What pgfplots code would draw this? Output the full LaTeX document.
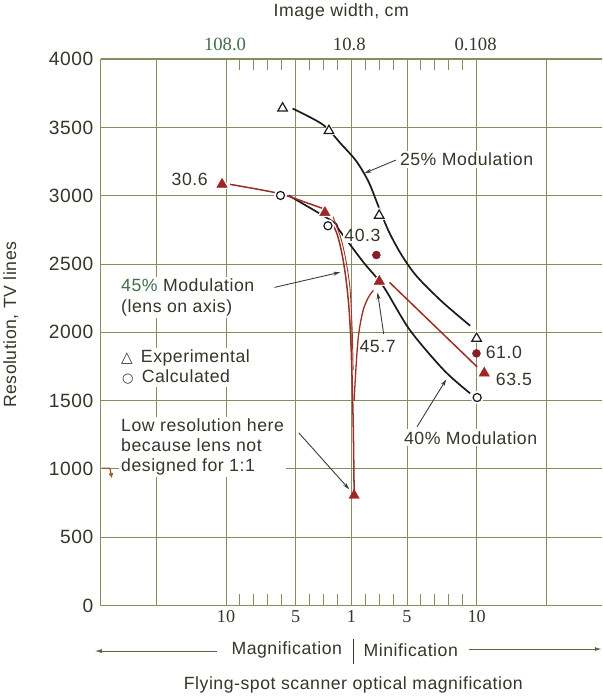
\documentclass[border=0pt]{standalone}
\usepackage{fontspec}
\setmainfont{Liberation Sans}[LetterSpace=3]
\newfontfamily\serifnum{Liberation Serif}
\newfontfamily\sym{DejaVu Sans}
\usepackage{pgfplots}
\pgfplotsset{compat=1.18}
\usetikzlibrary{arrows.meta}
\definecolor{gridc}{RGB}{135,141,95}
\definecolor{txt}{RGB}{50,56,42}
\definecolor{redc}{RGB}{160,38,38}
\definecolor{curvered}{RGB}{155,48,40}
\definecolor{dotc}{RGB}{135,28,45}
\definecolor{blk}{RGB}{28,28,28}
\definecolor{grn}{RGB}{66,110,76}
\definecolor{brn}{RGB}{150,90,40}
\newcommand{\tf}{\fontsize{17.5}{20}\selectfont}
\begin{document}
\begin{tikzpicture}
\begin{axis}[name=ax, scale only axis, width=496pt, height=541pt,
  xmin=-9, xmax=27, ymin=0, ymax=4000,
  axis x line*=box, axis y line*=left,
  axis line style={gridc, line width=1.3pt},
  xtick={-5,0,5,9,13,18,23}, xticklabels={,10,5,1,5,10,},
  minor xtick={1,2,3,4,6,7,8,10,11,12,14,15,16,17},
  ytick={0,500,...,4000},
  yticklabels={0,500,1000,1500,2000,2500,3000,3500,4000},
  major tick length=0pt, minor tick length=11pt,
  every minor tick/.style={gridc, line width=1pt},
  grid=major, major grid style={gridc, line width=1pt},
  tick label style={txt},
  x tick label style={font=\serifnum\fontsize{18}{18}\selectfont, yshift=-1pt},
  y tick label style={font=\fontsize{19}{19}\selectfont, xshift=-4pt},
  clip=false,
]
% ---- 25% modulation (experimental)
\addplot[blk, line width=1.7pt, smooth, tension=0.5] coordinates {
 (4.78,3638) (6.96,3520) (8.26,3379) (9.35,3254) (10.22,3106) (10.87,2943) (11.67,2743) (12.61,2566) (13.70,2410) (15.51,2225) (17.54,2048)};
% ---- 40% modulation (calculated)
\addplot[blk, line width=1.7pt, smooth, tension=0.5] coordinates {
 (4.49,3002) (7.68,2810) (8.12,2750) (9.86,2514) (11.30,2336) (13.19,2019) (15.65,1723) (17.54,1553)};
% ---- 45% modulation (lens on axis)
\addplot[curvered, line width=1.5pt, smooth, tension=0.5] coordinates {
 (0.29,3083) (3.77,3017) (5.94,2943) (6.96,2906)};
\addplot[curvered, line width=1.5pt, smooth, tension=0.5] coordinates {
 (7.45,2830) (7.97,2721) (8.33,2573) (8.62,2388) (8.84,2166) (8.99,1871) (9.13,1353) (9.2,840)};
\addplot[curvered!85!brn, line width=0.9pt, smooth, tension=0.5] coordinates {
 (7.68,2847) (8.26,2684) (8.62,2521) (8.91,2314) (9.06,2019) (9.13,1723)};
\addplot[curvered, line width=1.3pt, smooth, tension=0.5] coordinates {
 (9.2,1500) (9.28,1649) (9.42,1871) (9.57,2019) (9.86,2166) (10.22,2255) (10.58,2307)};
\addplot[curvered, line width=1.5pt] coordinates {(11.74,2366) (18.04,1747)};
% ---- halos and markers
\addplot[only marks, mark=triangle*, mark size=8pt, white] coordinates {
 (4.06,3640) (7.39,3475) (11.0,2855) (18.0,1955)};
\addplot[only marks, mark=*, mark size=6pt, white] coordinates {
 (3.91,3002) (7.32,2780) (18.04,1523)};
\addplot[only marks, mark=triangle*, mark size=8.5pt, white] coordinates {
 (-0.29,3083) (7.10,2876) (11.01,2373) (18.55,1701)};
\addplot[only marks, mark=triangle, mark size=5.5pt, blk, mark options={line width=1.2pt, fill=white}] coordinates {
 (4.06,3640) (7.39,3475) (11.0,2855) (18.0,1955)};
\addplot[only marks, mark=o, mark size=4pt, blk, mark options={line width=1.2pt, fill=white}] coordinates {
 (3.91,3002) (7.32,2780) (18.04,1523)};
\addplot[only marks, mark=triangle*, mark size=6pt, redc] coordinates {
 (-0.29,3083) (7.10,2876) (9.2,806) (11.01,2373) (18.55,1701)};
\addplot[only marks, mark=*, mark size=4pt, dotc] coordinates {
 (10.80,2566) (17.99,1846)};
\end{axis}
\begin{scope}[shift={(ax.south west)}, xshift=-107pt, yshift=603pt, x=1pt, y=-1pt,
  every node/.style={text=txt, font=\tf}]
\node at (345,15) {Image width, cm};
\node[font=\serifnum\fontsize{18.5}{18}\selectfont, text=grn] at (230,47) {108.0};
\node[font=\serifnum\fontsize{18.5}{18}\selectfont] at (353,47) {10.8};
\node[font=\serifnum\fontsize{18.5}{18}\selectfont] at (478,47) {0.108};
\node[rotate=90] at (18,325) {Resolution, TV lines};
% bottom
\node[anchor=east, inner sep=0pt] at (346,647) {Magnification};
\node[anchor=west, inner sep=0pt] at (367,647) {Minification};
\draw[txt, line width=1pt] (357,636) -- (357,661);
\draw[gridc!70!black, line width=1pt, -{Latex[length=7pt,width=4pt]}] (222,648) -- (101,648);
\draw[gridc!70!black, line width=1pt, -{Latex[length=7pt,width=4pt]}] (471,646) -- (603,646);
\node at (357,682) {Flying-spot scanner optical magnification};
% annotations
\tikzset{ann/.style={txt!90!gridc, line width=0.9pt, -{Stealth[length=7pt,width=4pt]}}}
\node[anchor=west, fill=white, inner sep=2pt] at (401,161) {25\% Modulation};
\draw[ann] (399,162) -- (368,175);
\node[anchor=east, fill=white, inner sep=1pt] at (214,181) {30.6};
\node[anchor=west, fill=white, inner sep=1pt] at (347,237) {40.3};
\node[anchor=west, align=left, fill=white, inner sep=2pt] at (125,298) {{\color{grn}45\%} Modulation\\(lens on axis)};
\draw[ann] (279,288) -- (344,273);
\node[anchor=west, align=left, fill=white, inner sep=2pt] at (125,367)
  {{\sym\fontsize{15}{15}\selectfont △}\hspace{8pt}Experimental\\\hspace{1pt}{\sym\fontsize{13}{13}\selectfont ○}\hspace{8pt}Calculated};
\node[anchor=west, align=left, fill=white, inner sep=2pt] at (125,446) {Low resolution here\\because lens not\\designed for 1:1};
\draw[ann] (303,432) -- (353,488);
\node[anchor=west, fill=white, inner sep=1pt] at (362,347) {45.7};
\draw[ann] (387,334) -- (381,293);
\node[anchor=west, inner sep=1pt] at (487,352) {61.0};
\node[anchor=west, inner sep=1pt] at (497,379) {63.5};
\node[anchor=west, fill=white, inner sep=2pt] at (405,437) {40\% Modulation};
\draw[ann] (420,426) -- (449,379);
\draw[brn, line width=1.2pt, -{Latex[length=5pt,width=5pt]}] (108,467) -- (116,467) -- (118,477);
\end{scope}
\end{tikzpicture}
\end{document}
